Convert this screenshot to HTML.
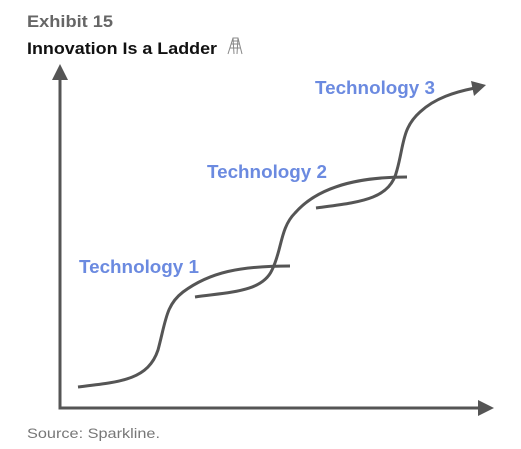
<!DOCTYPE html>
<html><head><style>
html,body{margin:0;padding:0;background:#fff;width:521px;height:449px;overflow:hidden}
svg{display:block}
</style></head><body>
<svg width="521" height="449" viewBox="0 0 521 449" xmlns="http://www.w3.org/2000/svg">
<text x="27" y="27" font-family="Liberation Sans, sans-serif" font-weight="bold" font-size="17" fill="#666" textLength="86" lengthAdjust="spacingAndGlyphs">Exhibit 15</text>
<text x="27" y="54" font-family="Liberation Sans, sans-serif" font-weight="bold" font-size="17" fill="#111" textLength="190" lengthAdjust="spacingAndGlyphs">Innovation Is a Ladder</text>
<g stroke="#888" stroke-width="1" fill="none">
<path d="M228 54 L233 38 L238 38 L242 54 M230 48 H240 M231 44 H239 M232 41 H238 M233 38 L234 54 M238 38 L237 54"/>
</g>
<g stroke="#555" stroke-width="3" fill="none">
<line x1="60" y1="408" x2="60" y2="75"/>
<line x1="58.5" y1="408" x2="483" y2="408"/>
<path d="M78 387 C120 382 148 380 158 350 C166 320 166 305 183 292 C210 272 240 266 290 266"/>
<path d="M195 297 C230 292 262 292 272 270 C282 250 280 228 295 213 C315 190 350 177 407 177"/>
<path d="M316 208 C360 202 390 200 397 170 C404 145 402 128 420 112 C435 98 455 92 475 88"/>
</g>
<g fill="#555">
<polygon points="60,64 52,80 68,80"/>
<polygon points="494,408 478,400 478,416"/>
<polygon points="486,85 471,81 474,96"/>
</g>
<g font-family="Liberation Sans, sans-serif" font-weight="bold" font-size="18" fill="#6b8ae0">
<text x="79" y="273" textLength="120" lengthAdjust="spacingAndGlyphs">Technology 1</text>
<text x="207" y="178" textLength="120" lengthAdjust="spacingAndGlyphs">Technology 2</text>
<text x="315" y="94" textLength="120" lengthAdjust="spacingAndGlyphs">Technology 3</text>
</g>
<text x="27" y="438" font-family="Liberation Sans, sans-serif" font-size="14" fill="#777" textLength="133" lengthAdjust="spacingAndGlyphs">Source: Sparkline.</text>
</svg>
</body></html>
